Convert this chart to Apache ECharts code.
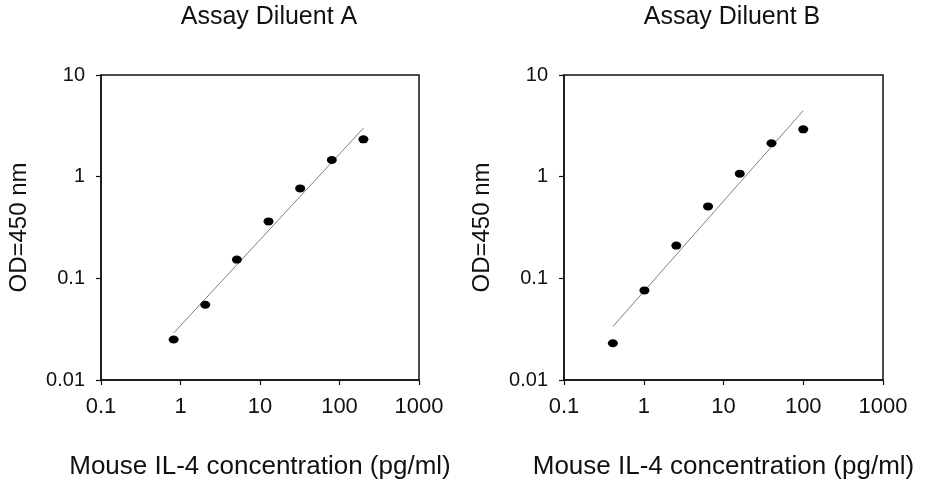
<!DOCTYPE html>
<html style="height: 100%">
<head>
	<meta charset="utf-8">
</head>
<body style="height: 100%; margin: 0; background: #fff">
	<div id="container" style="width: 926px; height: 480px"></div>
	<script type="text/javascript" src="https://cdn.jsdelivr.net/npm/echarts@6/dist/echarts.min.js"></script>
	<script type="text/javascript">
		// values
		let titles = ['Assay Diluent A', 'Assay Diluent B'];
		let concA = [0.82, 2.05, 5.12, 12.8, 32, 80, 200];
		let odA = [0.025, 0.055, 0.153, 0.363, 0.767, 1.46, 2.33];
		let concB = [0.41, 1.02, 2.56, 6.4, 16, 40, 100];
		let odB = [0.023, 0.076, 0.21, 0.51, 1.07, 2.13, 2.92];
		let fitAx = [0.82, 200];
		let fitAy = [0.029, 3.0];
		let fitBx = [0.41, 100];
		let fitBy = [0.0335, 4.46];

		let font = 'Liberation Sans, Arial, sans-serif';
		let dom = document.getElementById('container');
		let myChart = echarts.init(dom);

		function pairs(xs, ys) {
			return xs.map(function (x, i) { return [x, ys[i]]; });
		}

		// plain numbers, no thousands separator
		function plain(v) {
			return String(+v.toPrecision(6));
		}

		function xAxisFor(idx) {
			return {
				type: 'log', logBase: 10, min: 0.1, max: 1000, gridIndex: idx,
				name: 'Mouse IL-4 concentration (pg/ml)',
				nameLocation: 'middle', nameGap: 74,
				nameTextStyle: { fontFamily: font, fontSize: 26, color: '#111' },
				axisLine: { lineStyle: { color: '#111', width: 1.5 } },
				axisTick: { length: 5, lineStyle: { color: '#111', width: 1.2 } },
				axisLabel: { fontFamily: font, fontSize: 22, color: '#111', margin: 16, formatter: plain },
				splitLine: { show: false }
			};
		}

		function yAxisFor(idx) {
			return {
				type: 'log', logBase: 10, min: 0.01, max: 10, gridIndex: idx,
				name: 'OD=450 nm',
				nameLocation: 'middle', nameGap: 70,
				nameTextStyle: { fontFamily: font, fontSize: 24, color: '#111' },
				axisLine: { lineStyle: { color: '#111', width: 1.5 } },
				axisTick: { length: 5, lineStyle: { color: '#111', width: 1.2 } },
				axisLabel: { fontFamily: font, fontSize: 20, color: '#111', margin: 16, formatter: plain },
				splitLine: { show: false }
			};
		}

		function dots(idx, data) {
			return {
				type: 'scatter', xAxisIndex: idx, yAxisIndex: idx,
				symbol: 'circle', symbolSize: [10, 8],
				itemStyle: { color: '#000', opacity: 1 },
				data: data, z: 3
			};
		}

		function fit(idx, data) {
			return {
				type: 'line', xAxisIndex: idx, yAxisIndex: idx,
				showSymbol: false, symbol: 'none',
				lineStyle: { color: '#808080', width: 1 },
				data: data, z: 2
			};
		}

		let option = {
			animation: false,
			backgroundColor: '#fff',
			title: [
				{ text: titles[0], left: 264, top: 0, textAlign: 'center',
					textStyle: { fontFamily: font, fontSize: 25, fontWeight: 'normal', color: '#111' } },
				{ text: titles[1], left: 727, top: 0, textAlign: 'center',
					textStyle: { fontFamily: font, fontSize: 25, fontWeight: 'normal', color: '#111' } }
			],
			grid: [
				{ left: 101, top: 75, width: 318, height: 305, outerBoundsMode: 'none',
					show: true, borderColor: '#111', borderWidth: 1.5 },
				{ left: 564, top: 75, width: 319, height: 305, outerBoundsMode: 'none',
					show: true, borderColor: '#111', borderWidth: 1.5 }
			],
			xAxis: [xAxisFor(0), xAxisFor(1)],
			yAxis: [yAxisFor(0), yAxisFor(1)],
			series: [
				fit(0, pairs(fitAx, fitAy)),
				dots(0, pairs(concA, odA)),
				fit(1, pairs(fitBx, fitBy)),
				dots(1, pairs(concB, odB))
			]
		};

		myChart.setOption(option);
	</script>
</body>
</html>
